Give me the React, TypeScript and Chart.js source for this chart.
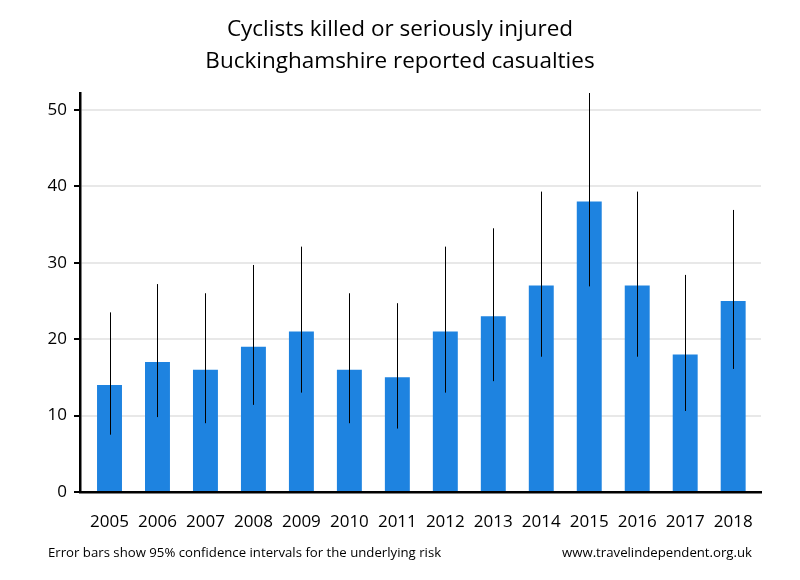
import React, { useEffect, useRef } from "react";
import { Chart, registerables } from "chart.js";

Chart.register(...registerables);

const years: number[] = [2005, 2006, 2007, 2008, 2009, 2010, 2011, 2012, 2013, 2014, 2015, 2016, 2017, 2018];
const casualties: number[] = [14, 17, 16, 19, 21, 16, 15, 21, 23, 27, 38, 27, 18, 25];
const lowerCI: number[] = [7.5, 9.8, 9.0, 11.4, 13.0, 9.0, 8.3, 13.0, 14.5, 17.7, 26.9, 17.7, 10.6, 16.1];
const upperCI: number[] = [23.5, 27.2, 26.0, 29.7, 32.1, 26.0, 24.7, 32.1, 34.5, 39.3, 55.0, 39.3, 28.4, 36.9];
const titleLines: string[] = ["Cyclists killed or seriously injured", "Buckinghamshire reported casualties"];
const footerLeft = "Error bars show 95% confidence intervals for the underlying risk";
const footerRight = "www.travelindependent.org.uk";

const FONT = "'Open Sans', sans-serif";

const overlayPlugin = {
  id: "overlay",
  afterDatasetsDraw(chart: any) {
    const { ctx, chartArea, scales } = chart;
    const x = scales.x;
    const y = scales.y;
    ctx.save();
    ctx.beginPath();
    ctx.rect(chartArea.left, chartArea.top, chartArea.right - chartArea.left, chartArea.bottom - chartArea.top);
    ctx.clip();
    ctx.strokeStyle = "#000";
    ctx.lineWidth = 1;
    years.forEach((yr, i) => {
      const px = Math.round(x.getPixelForValue(yr)) + 0.5;
      ctx.beginPath();
      ctx.moveTo(px, y.getPixelForValue(lowerCI[i]));
      ctx.lineTo(px, y.getPixelForValue(upperCI[i]));
      ctx.stroke();
    });
    ctx.restore();
  },
  afterDraw(chart: any) {
    const { ctx } = chart;
    ctx.save();
    ctx.fillStyle = "#000";
    ctx.textBaseline = "middle";
    ctx.textAlign = "center";
    ctx.font = `22.5px ${FONT}`;
    ctx.fillText(titleLines[0], 400, 30);
    ctx.fillText(titleLines[1], 400, 62);
    ctx.font = `13.2px ${FONT}`;
    ctx.textAlign = "left";
    ctx.fillText(footerLeft, 48, 553);
    ctx.textAlign = "right";
    ctx.fillText(footerRight, 752, 553);
    ctx.restore();
  },
};

export default function App() {
  const ref = useRef<HTMLCanvasElement | null>(null);
  useEffect(() => {
    if (!ref.current) return;
    const chart = new Chart(ref.current, {
      type: "bar",
      data: {
        datasets: [
          {
            data: years.map((yr, i) => ({ x: yr, y: casualties[i] })),
            backgroundColor: "#1e83e0",
            borderWidth: 0,
            barPercentage: 0.52,
            categoryPercentage: 1,
          },
        ],
      },
      options: {
        responsive: false,
        animation: false,
        devicePixelRatio: 1,
        layout: { padding: { left: 0, right: 39, top: 93, bottom: 0 } },
        plugins: { legend: { display: false }, tooltip: { enabled: false }, title: { display: false } },
        scales: {
          x: {
            type: "linear",
            min: 2004.385,
            max: 2018.58,
            offset: false,
            afterFit: (s: any) => { s.height = 88; },
            afterBuildTicks: (s: any) => { s.ticks = years.map((v) => ({ value: v })); },
            ticks: {
              autoSkip: false,
              padding: 20,
              color: "#000",
              font: { family: FONT, size: 17 },
              callback: (v: any) => String(v),
              maxRotation: 0,
            },
            grid: { display: false, drawTicks: false },
            border: { display: true, color: "#000", width: 2.5 },
          },
          y: {
            min: 0,
            max: 52.2,
            afterFit: (s: any) => { s.width = 80; },
            afterBuildTicks: (s: any) => { s.ticks = [0, 10, 20, 30, 40, 50].map((v) => ({ value: v })); },
            ticks: {
              padding: 7,
              color: "#000",
              font: { family: FONT, size: 17 },
            },
            grid: {
              color: (c: any) => (c.tick && c.tick.value === 0 ? "rgba(0,0,0,0)" : "#e8e8e8"),
              lineWidth: 2,
              tickColor: "#000",
              tickLength: 6,
              drawTicks: true,
            },
            border: { display: true, color: "#000", width: 2.5 },
          },
        },
      },
      plugins: [overlayPlugin],
    } as any);
    return () => chart.destroy();
  }, []);
  return (
    <div style={{ position: "fixed", left: 0, top: 0, width: 800, height: 580, background: "#fff" }}>
      <canvas ref={ref} width={800} height={580} style={{ width: 800, height: 580 }} />
    </div>
  );
}
